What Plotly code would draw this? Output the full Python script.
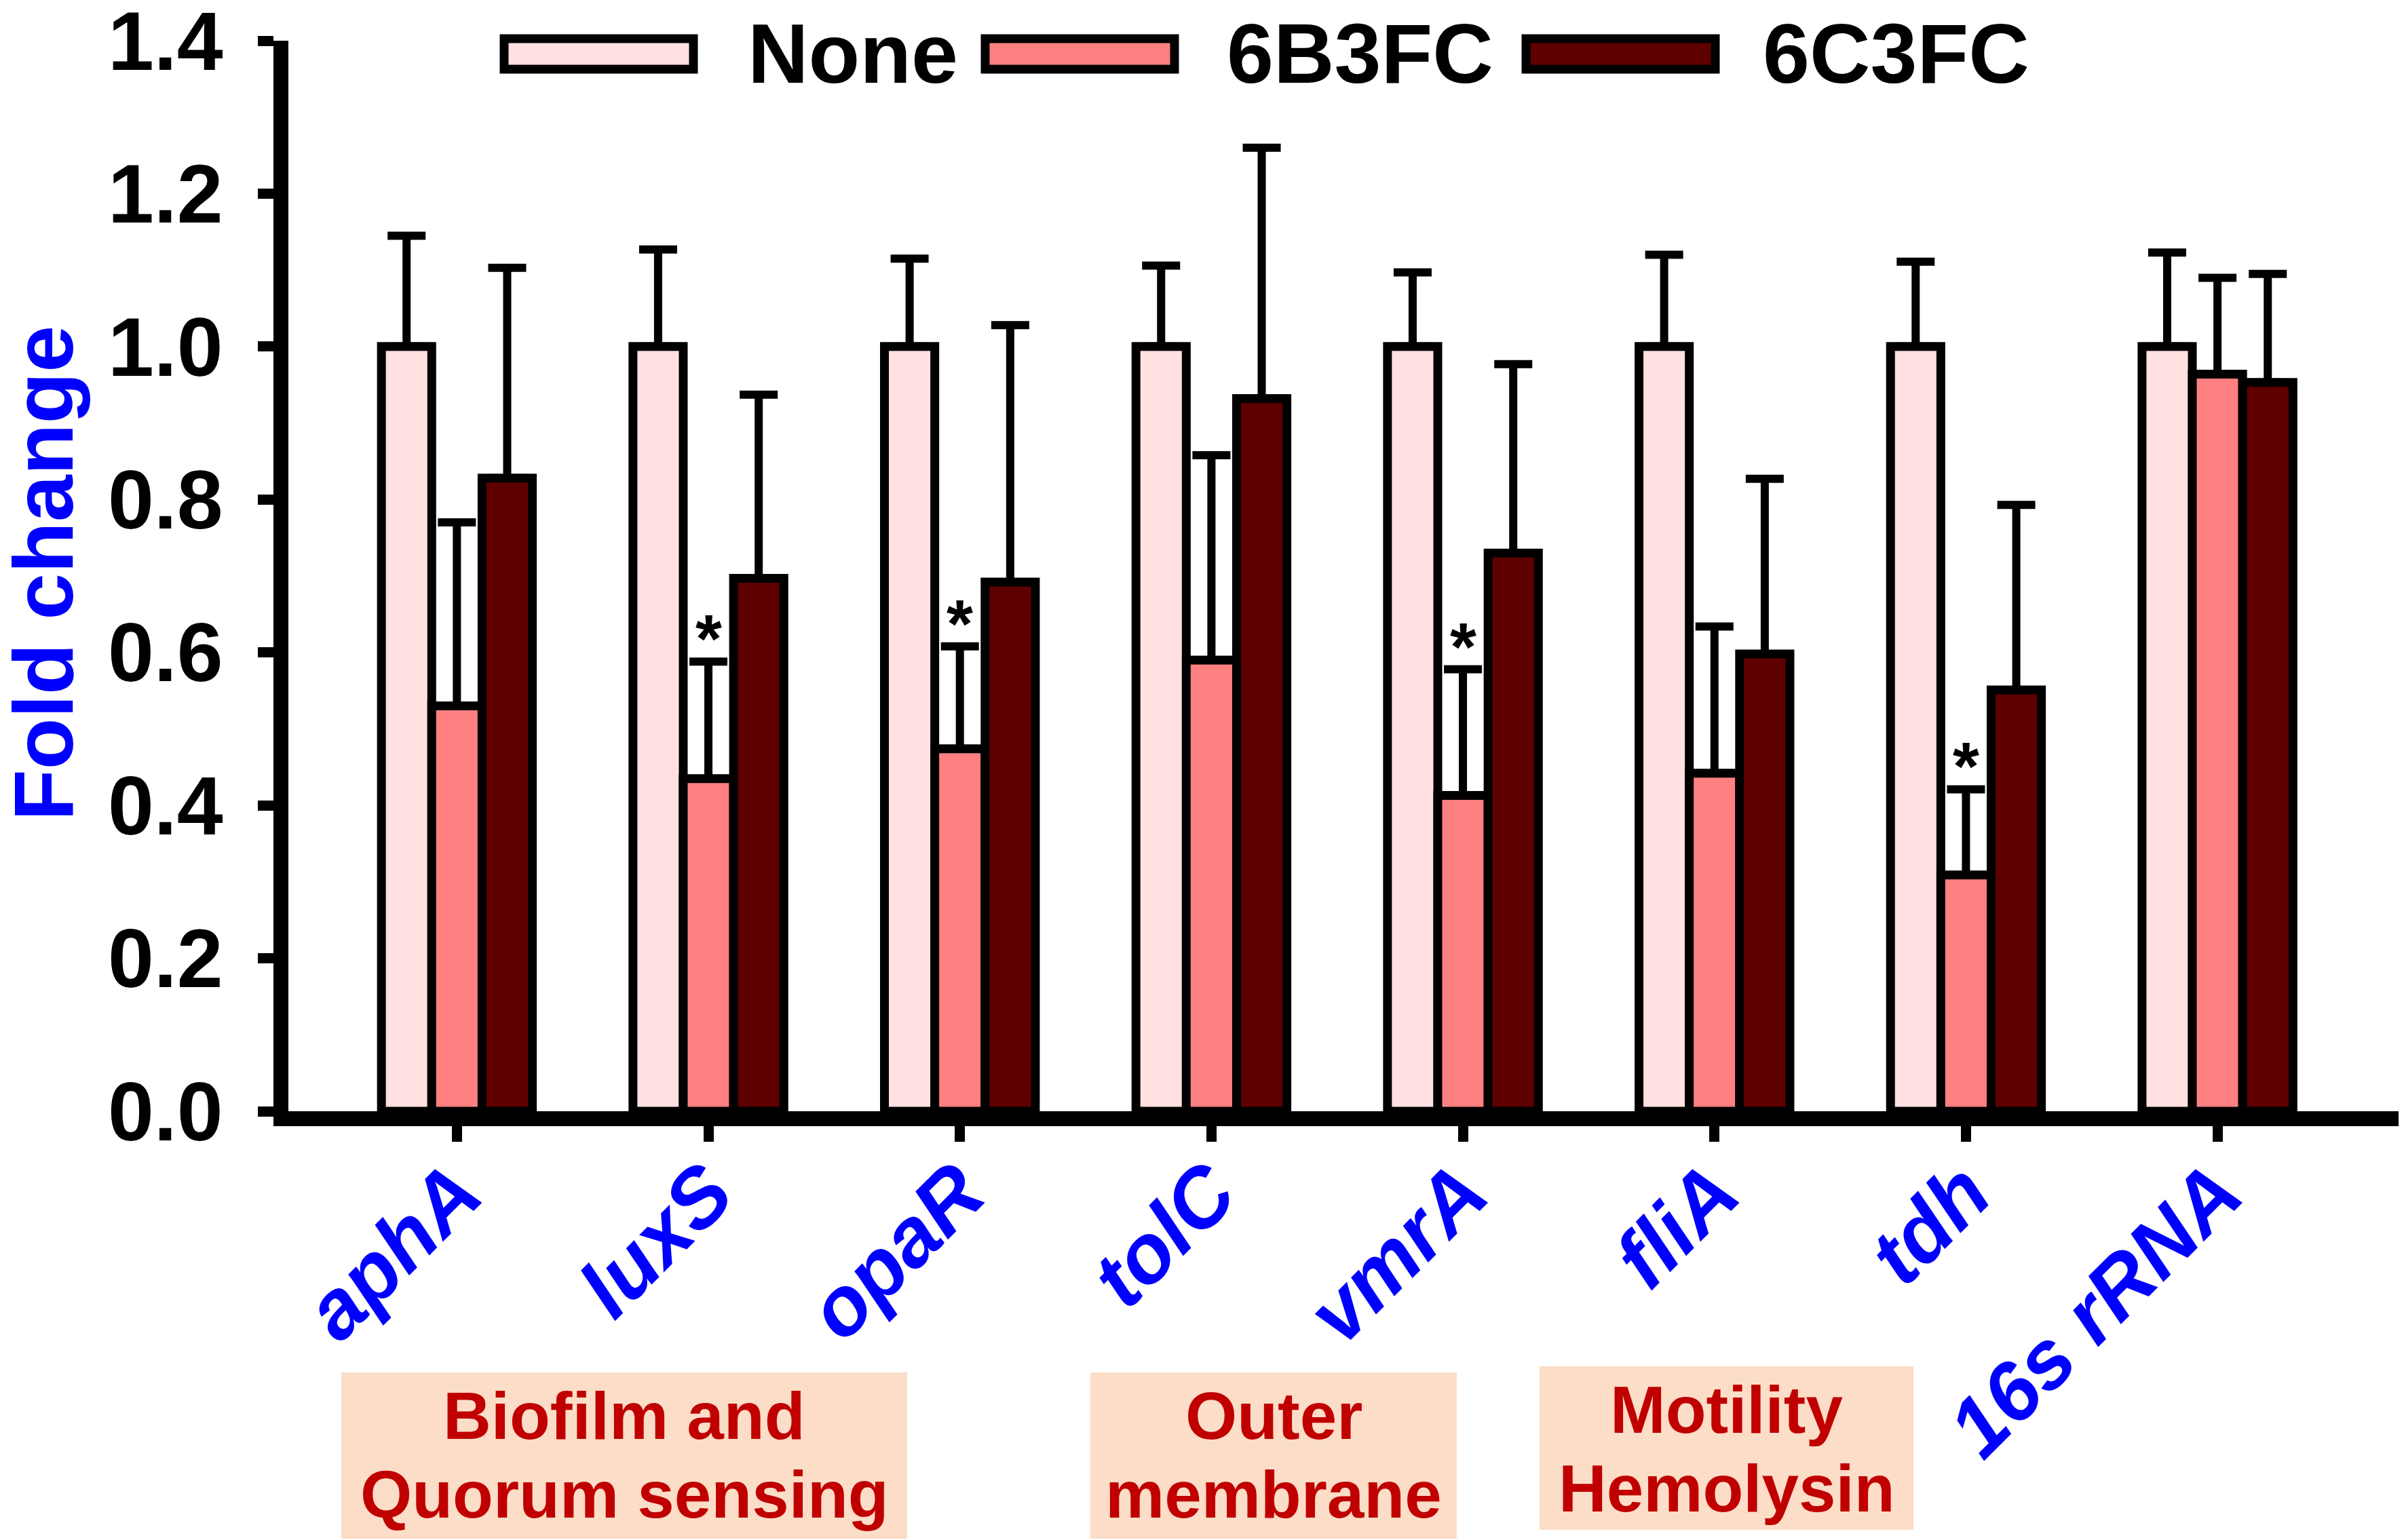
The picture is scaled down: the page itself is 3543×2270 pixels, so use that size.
import plotly.graph_objects as go

# data (fold change, mean and SD)
genes = ["aphA", "luxS", "opaR", "tolC", "vmrA", "fliA", "tdh", "16s rRNA"]
series_names = ["None", "6B3FC", "6C3FC"]
series_colors = ["#FFE1E1", "#FF8080", "#5E0000"]

none_mean = [1.0, 1.0, 1.0, 1.0, 1.0, 1.0, 1.0, 1.0]
none_sd = [0.145, 0.127, 0.115, 0.106, 0.097, 0.120, 0.111, 0.123]
b3fc_mean = [0.530, 0.435, 0.474, 0.590, 0.413, 0.442, 0.309, 0.964]
b3fc_sd = [0.240, 0.153, 0.134, 0.268, 0.165, 0.192, 0.112, 0.126]
c3fc_mean = [0.828, 0.697, 0.692, 0.932, 0.730, 0.598, 0.551, 0.953]
c3fc_sd = [0.275, 0.240, 0.336, 0.328, 0.247, 0.229, 0.242, 0.142]

# significance marks on the 6B3FC bars
b3fc_star = [False, True, True, False, True, False, True, False]

y_ticks = [0.0, 0.2, 0.4, 0.6, 0.8, 1.0, 1.2, 1.4]

group_lines = [["Biofilm and", "Quorum sensing"], ["Outer", "membrane"], ["Motility", "Hemolysin"]]

FONT = "Liberation Sans"
W, H = 3543, 2270
L, R, T, B = 425, 8, 60, 632
PW, PH = W - L - R, H - T - B


def px_x(px):
    return (px - L) / PW


def px_y(py):
    return (H - B - py) / PH


fig = go.Figure()

means = [none_mean, b3fc_mean, c3fc_mean]
sds = [none_sd, b3fc_sd, c3fc_sd]
for name, mean, sd, color in zip(series_names, means, sds, series_colors):
    fig.add_trace(go.Bar(
        x=genes, y=mean, name=name,
        marker=dict(color=color, line=dict(color="black", width=13)),
        error_y=dict(type="data", array=sd, arrayminus=[0] * len(sd), symmetric=False,
                     color="black", thickness=12, width=28),
    ))

annotations = []
shapes = []

# asterisks above the error bars
for g, m, s, star in zip(genes, b3fc_mean, b3fc_sd, b3fc_star):
    if star:
        annotations.append(dict(x=g, y=m + s, xref="x", yref="y", text="*", showarrow=False,
                                yanchor="middle", yshift=34,
                                font=dict(family=FONT, size=100, color="black", weight="bold")))

# hand-made legend with long boxes
legend_box_x0 = [743, 1452, 2249]
legend_text_x = [1100, 1806, 2596]
for name, color, bx, tx in zip(series_names, series_colors, legend_box_x0, legend_text_x):
    shapes.append(dict(type="rect", xref="paper", yref="paper",
                       x0=px_x(bx), x1=px_x(bx + 279), y0=px_y(102), y1=px_y(57),
                       fillcolor=color, line=dict(color="black", width=13)))
    annotations.append(dict(x=px_x(tx), y=px_y(79), xref="paper", yref="paper", text=name,
                            showarrow=False, xanchor="left", yanchor="middle",
                            font=dict(family=FONT, size=124, color="black", weight="bold")))

# function group boxes under the gene names
group_box_x = [(503, 1337), (1607, 2147), (2269, 2820)]
group_box_y = [(2023, 2268), (2023, 2268), (2014, 2255)]
for lines, (x0, x1), (y0, y1) in zip(group_lines, group_box_x, group_box_y):
    shapes.append(dict(type="rect", xref="paper", yref="paper", layer="below",
                       x0=px_x(x0), x1=px_x(x1), y0=px_y(y1), y1=px_y(y0),
                       fillcolor="#FCDDC7", line=dict(width=0)))
    for k, line in enumerate(lines):
        annotations.append(dict(x=px_x((x0 + x1) / 2), y=px_y(y0 + 64 + 116 * k),
                                xref="paper", yref="paper",
                                text=line, showarrow=False, xanchor="center", yanchor="middle",
                                font=dict(family=FONT, size=98, color="#C00000", weight="bold")))

# y axis title
annotations.append(dict(x=px_x(64), y=px_y(845), xref="paper", yref="paper", text="Fold change",
                        textangle=-90, showarrow=False, xanchor="center", yanchor="middle",
                        font=dict(family=FONT, size=124, color="#0000FF", weight="bold")))

fig.update_layout(
    width=W, height=H,
    margin=dict(l=L, r=R, t=T, b=B, autoexpand=False),
    paper_bgcolor="white", plot_bgcolor="white",
    barmode="group", bargap=0.40, bargroupgap=0,
    showlegend=False,
    annotations=annotations, shapes=shapes,
    xaxis=dict(range=[-0.67, 7.72], showline=True, linewidth=22, linecolor="black",
               ticks="outside", ticklen=23, tickwidth=15, tickcolor="black",
               tickangle=-45, ticklabelstandoff=-45, showgrid=False, zeroline=False,
               tickfont=dict(family=FONT, size=122, color="#0000FF", weight="bold", style="italic")),
    yaxis=dict(range=[0, 1.4], tickvals=y_ticks, tickformat=".1f",
               showline=True, linewidth=22, linecolor="black",
               ticks="outside", ticklen=23, tickwidth=15, tickcolor="black",
               ticklabelstandoff=27, ticklabeloverflow="allow",
               showgrid=False, zeroline=False,
               tickfont=dict(family=FONT, size=122, color="black", weight="bold")),
)

fig.write_html("out.html", config={"displayModeBar": False},
               post_script="document.body.style.margin='0';")
